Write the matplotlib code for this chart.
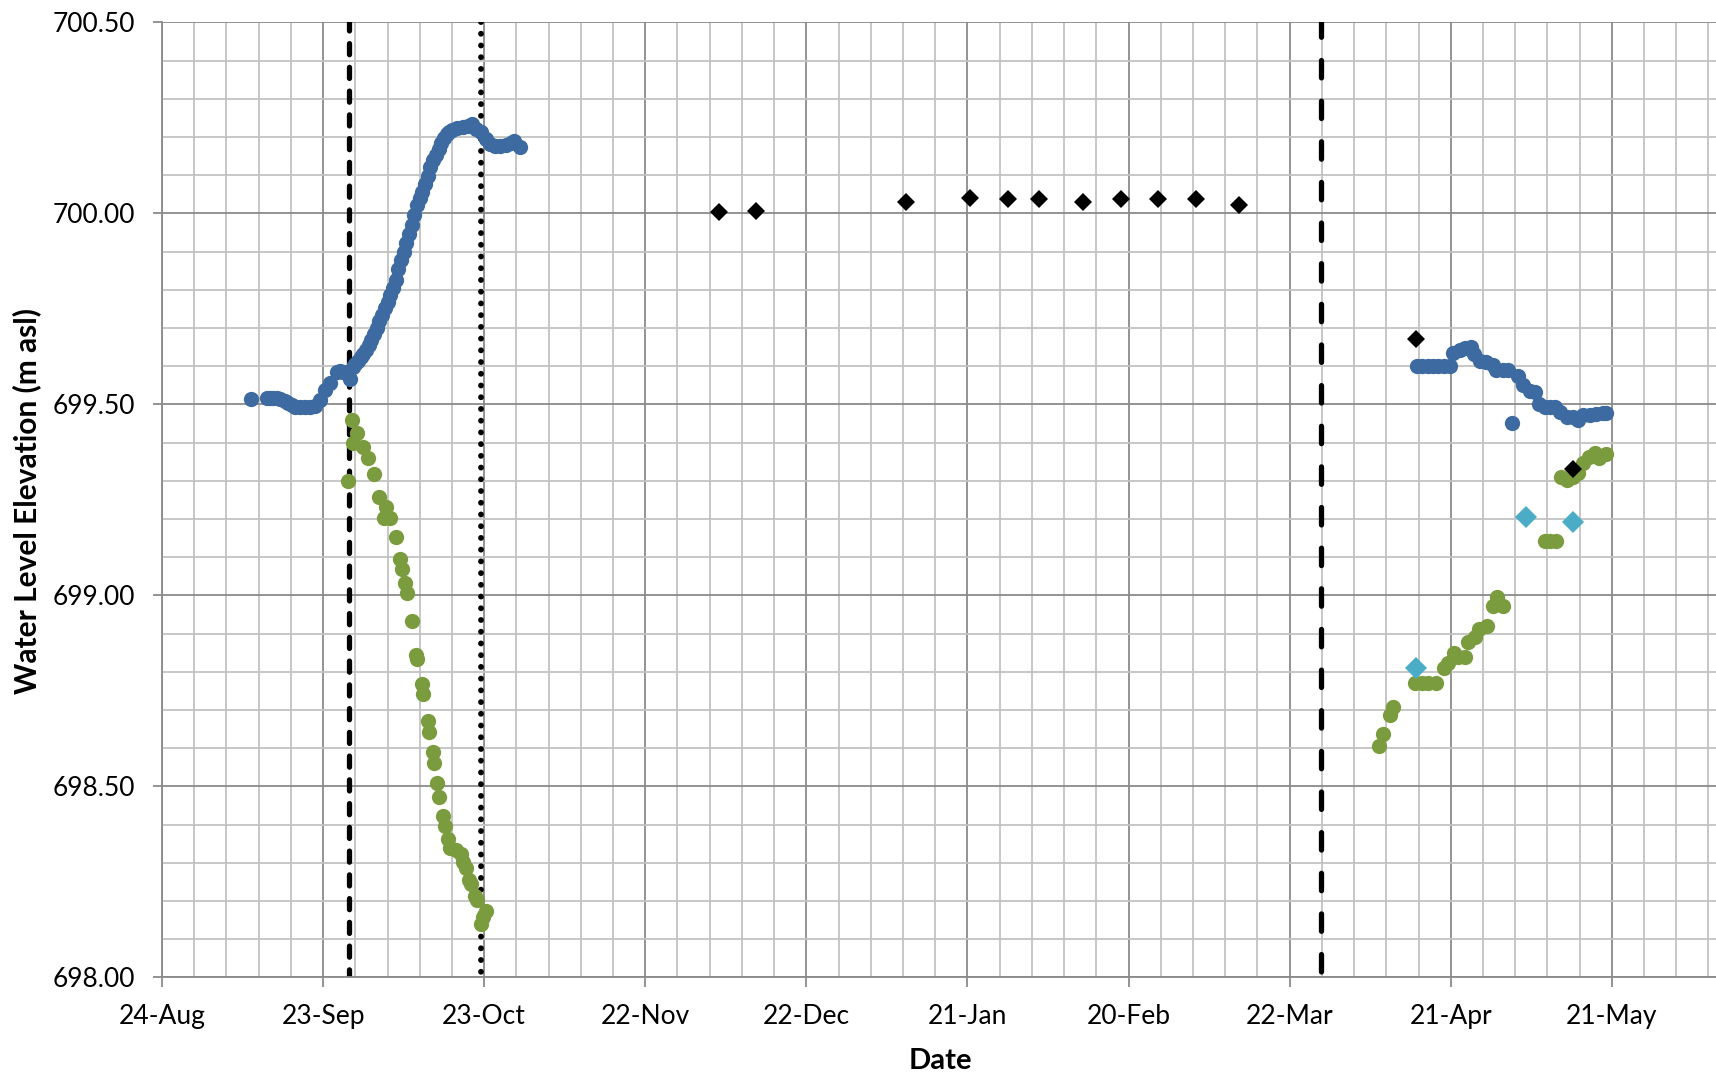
import datetime as dt

import matplotlib
matplotlib.use("Agg")
import matplotlib.pyplot as plt
import matplotlib.dates as mdates
from matplotlib.ticker import FormatStrFormatter, MultipleLocator

plt.rcParams['font.family'] = ['Lato', 'DejaVu Sans']

START = dt.datetime(2013, 8, 24)

# Logger record, fall deployment (days after START, m asl)
logger_fall_days = [
    16.5, 19.5, 20.1, 20.7, 21.4, 22.0, 22.9, 23.5, 24.2, 24.7, 25.7, 26.6,
    27.6, 28.5, 29.4, 30.4, 31.3, 32.5, 33.2, 33.8, 34.5, 35.0,
    35.5, 36.0, 36.5, 37.0, 37.5, 38.0, 38.5, 39.0, 39.5, 40.0, 40.5, 41.0,
    41.5, 42.0, 42.5, 43.0, 43.5, 44.0, 44.5, 45.0, 45.5, 46.0, 46.5, 47.0,
    47.5, 48.0, 48.5, 49.0, 49.5, 50.0, 50.5, 51.0, 51.5, 52.0, 52.5, 53.0,
    53.5, 54.0, 55.0, 56.0, 57.0, 57.7, 58.5, 59.5, 60.3, 61.0, 62.0, 63.0,
    64.0, 65.0, 65.5, 66.7,
]
logger_fall_elev = [
    699.513, 699.516, 699.516, 699.516, 699.516, 699.515, 699.509, 699.504,
    699.498, 699.494, 699.492, 699.492, 699.492, 699.497, 699.512, 699.538,
    699.555, 699.585, 699.587, 699.586, 699.582, 699.566,
    699.597, 699.605, 699.614, 699.623, 699.633, 699.643, 699.655, 699.669,
    699.684, 699.700, 699.717, 699.734, 699.751, 699.769, 699.786, 699.805,
    699.825, 699.853, 699.878, 699.900, 699.922, 699.946, 699.970, 699.995,
    700.021, 700.040, 700.056, 700.076, 700.099, 700.122, 700.140, 700.153,
    700.168, 700.185, 700.198, 700.207, 700.213, 700.218, 700.223, 700.226,
    700.229, 700.234, 700.220, 700.212, 700.195, 700.182, 700.176, 700.175,
    700.178, 700.185, 700.190, 700.173,
]

# Logger record, spring deployment
logger_spring_days = [
    233.7, 234.7, 235.7, 236.7, 237.7, 238.7, 239.8, 240.5, 241.7, 242.6,
    243.7, 244.3, 245.4, 246.6, 247.9, 248.5, 249.8, 250.7, 251.5, 252.6,
    253.5, 254.7, 255.7, 256.5, 257.5, 258.5, 259.4, 260.3, 261.6, 262.8,
    263.7, 264.7, 265.9, 267.1, 268.4, 268.9,
]
logger_spring_elev = [
    699.600, 699.600, 699.600, 699.600, 699.600, 699.600, 699.600, 699.634,
    699.642, 699.647, 699.651, 699.632, 699.614, 699.612, 699.603, 699.590,
    699.590, 699.590, 699.451, 699.573, 699.551, 699.536, 699.533, 699.501,
    699.492, 699.492, 699.492, 699.481, 699.468, 699.468, 699.459, 699.472,
    699.472, 699.474, 699.477, 699.477,
]

# Second well, fall and spring readings
well2_fall_days = [
    34.6, 35.3, 35.6, 36.4, 37.4, 38.4, 39.5, 40.4, 41.3, 41.7, 42.5, 43.5,
    44.4, 44.7, 45.3, 45.7, 46.6, 47.3, 47.5, 48.4, 48.7, 49.5, 49.7, 50.4,
    50.7, 51.2, 51.6, 52.4, 52.7, 53.3, 53.6, 54.7, 55.6, 56.1, 56.6, 57.2,
    57.5, 58.3, 58.6, 59.4, 59.7, 60.3,
]
well2_fall_elev = [
    699.300, 699.459, 699.400, 699.424, 699.389, 699.359, 699.318, 699.258,
    699.202, 699.231, 699.202, 699.152, 699.095, 699.068, 699.033, 699.006,
    698.934, 698.844, 698.833, 698.768, 698.742, 698.670, 698.643, 698.591,
    698.562, 698.508, 698.473, 698.423, 698.397, 698.362, 698.338, 698.334,
    698.323, 698.301, 698.286, 698.255, 698.245, 698.213, 698.203, 698.140,
    698.158, 698.174,
]
well2_spring_days = [
    226.6, 227.3, 228.6, 229.3, 233.3, 234.6, 235.8, 237.2, 238.7, 239.4,
    240.6, 241.4, 242.6, 243.3, 244.5, 245.3, 246.7, 247.8, 248.7, 249.7,
    257.5, 258.5, 259.6, 260.5, 261.6, 262.7, 263.7, 264.6, 265.8, 266.9,
    267.7, 268.9,
]
well2_spring_elev = [
    698.607, 698.637, 698.687, 698.709, 698.770, 698.770, 698.770, 698.770,
    698.809, 698.822, 698.850, 698.840, 698.840, 698.879, 698.890, 698.911,
    698.920, 698.971, 698.997, 698.971, 699.143, 699.143, 699.143, 699.311,
    699.302, 699.311, 699.320, 699.346, 699.363, 699.372, 699.359, 699.370,
]

# Manual tape measurements
manual_w2_days = [233.6, 254.0, 262.7]
manual_w2_elev = [698.809, 699.206, 699.191]

manual_w1_days = [103.7, 110.6, 138.5, 150.5, 157.5, 163.4, 171.5, 178.6,
                  185.5, 192.5, 200.5, 233.5, 262.8]
manual_w1_elev = [700.003, 700.007, 700.030, 700.039, 700.037, 700.038,
                  700.030, 700.037, 700.037, 700.037, 700.022, 699.670,
                  699.330]

# Events: pumping start, pumping stop, spring start
event_dashed_days = [34.8]
event_dotted_days = [59.5]
event_long_dash_days = [215.8]

X_END_DAYS = 289.4
Y_MIN, Y_MAX = 698.0, 700.5

BLUE = '#3d6aa0'
GREEN = '#7a9c3e'
CYAN = '#4bacc6'
GRID_MAJOR = '#8a8a8a'
GRID_MINOR = '#c3c3c3'

DOT_MS = 11.0


def to_dates(days):
    return [START + dt.timedelta(days=d) for d in days]


def event_line(ax, day, **kw):
    # drawn top-down so the dash pattern starts at the upper edge
    x = to_dates([day])[0]
    ax.plot([x, x], [Y_MAX, Y_MIN], color='black', dash_capstyle='round',
            zorder=2, **kw)


fig = plt.figure(figsize=(17.16, 10.77), dpi=100)
ax = fig.add_axes([0.0944, 0.0924, 0.9056, 0.8869])

for d in event_dashed_days:
    event_line(ax, d, lw=3.8, linestyle=(0.5, (2.1, 2.4)))
for d in event_dotted_days:
    event_line(ax, d, lw=4.2, linestyle=(0, (0.01, 2.0)))
for d in event_long_dash_days:
    event_line(ax, d, lw=3.8, linestyle=(0.5, (3.3, 4.4)))

ax.plot(to_dates(logger_fall_days), logger_fall_elev, 'o', color=BLUE,
        ms=DOT_MS, mew=0, zorder=3)
ax.plot(to_dates(logger_spring_days), logger_spring_elev, 'o', color=BLUE,
        ms=DOT_MS, mew=0, zorder=3)
ax.plot(to_dates(well2_fall_days), well2_fall_elev, 'o', color=GREEN,
        ms=DOT_MS, mew=0, zorder=4)
ax.plot(to_dates(well2_spring_days), well2_spring_elev, 'o', color=GREEN,
        ms=DOT_MS, mew=0, zorder=4)
ax.plot(to_dates(manual_w2_days), manual_w2_elev, 'D', color=CYAN,
        ms=11.0, mew=0, zorder=5)
ax.plot(to_dates(manual_w1_days), manual_w1_elev, 'D', color='black',
        ms=9.5, mew=0, zorder=6)

ax.set_xlim(START, START + dt.timedelta(days=X_END_DAYS))
ax.set_ylim(Y_MIN, Y_MAX)

ax.set_xticks(to_dates(range(0, 271, 30)))
ax.set_xticks(to_dates(range(0, 289, 6)), minor=True)
ax.xaxis.set_major_formatter(mdates.DateFormatter('%d-%b'))
ax.yaxis.set_major_locator(MultipleLocator(0.5))
ax.yaxis.set_minor_locator(MultipleLocator(0.1))
ax.yaxis.set_major_formatter(FormatStrFormatter('%.2f'))

ax.set_axisbelow(True)
ax.grid(which='minor', color=GRID_MINOR, lw=1.3)
ax.grid(which='major', color=GRID_MAJOR, lw=1.3)

for side in ('top', 'right'):
    ax.spines[side].set_visible(False)
for side in ('left', 'bottom'):
    ax.spines[side].set_color(GRID_MAJOR)
    ax.spines[side].set_linewidth(1.3)

ax.tick_params(which='minor', length=0)
ax.tick_params(axis='x', which='major', direction='out', length=7,
               width=1.3, color=GRID_MAJOR, labelsize=19, pad=12)
ax.tick_params(axis='y', which='major', direction='out', length=6.5,
               width=1.3, color=GRID_MAJOR, labelsize=19, pad=13)

fig.text(0.548, 0.0149, 'Date', ha='center', va='center', fontsize=21,
         fontweight='bold')
fig.text(0.0157, 0.535, 'Water Level Elevation (m asl)', ha='center',
         va='center', rotation=90, fontsize=21.5, fontweight='bold')

fig.savefig('out.png', dpi=100)
